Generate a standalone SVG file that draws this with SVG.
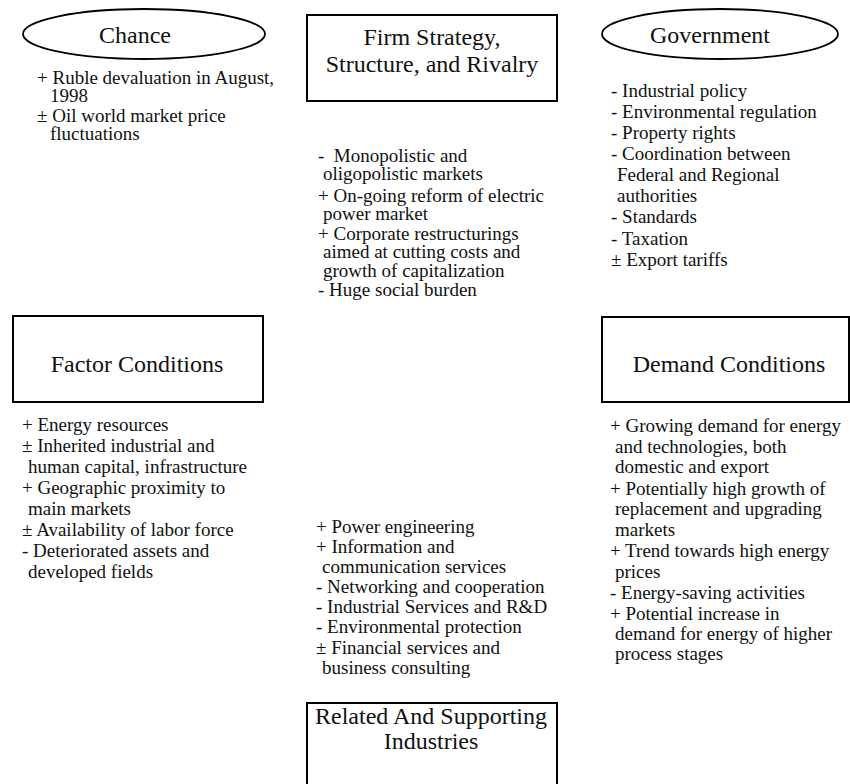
<svg xmlns="http://www.w3.org/2000/svg" width="850" height="784" viewBox="0 0 850 784">
  <style>
    .shape { fill: #ffffff; stroke: #000000; stroke-width: 2; }
    .oval { fill: #ffffff; stroke: #000000; stroke-width: 1.8; }
    .title { font-family: "Liberation Serif", "Times New Roman", serif; font-size: 24px; fill: #111111; text-anchor: middle; }
    .item { font-family: "Liberation Serif", "Times New Roman", serif; font-size: 19px; fill: #111111; }
  </style>
  <rect width="850" height="784" fill="#ffffff"/>

  <!-- Chance -->
  <g id="chance">
    <ellipse class="oval" cx="144" cy="34" rx="121" ry="25"/>
    <text class="title" x="135" y="43">Chance</text>
    <text class="item" x="37" y="84">+ Ruble devaluation in August,</text>
    <text class="item" x="50" y="102">1998</text>
    <text class="item" x="37" y="122">± Oil world market price</text>
    <text class="item" x="50" y="140">fluctuations</text>
  </g>

  <!-- Firm Strategy, Structure, and Rivalry -->
  <g id="firm-strategy">
    <rect class="shape" x="307" y="15" width="250" height="86"/>
    <text class="title" x="432" y="45">Firm Strategy,</text>
    <text class="title" x="432" y="72">Structure, and Rivalry</text>
    <text class="item" x="318" y="162" xml:space="preserve">-  Monopolistic and</text>
    <text class="item" x="323" y="180">oligopolistic markets</text>
    <text class="item" x="318" y="202">+ On-going reform of electric</text>
    <text class="item" x="323" y="220">power market</text>
    <text class="item" x="318" y="240">+ Corporate restructurings</text>
    <text class="item" x="323" y="258">aimed at cutting costs and</text>
    <text class="item" x="323" y="277">growth of capitalization</text>
    <text class="item" x="318" y="296">- Huge social burden</text>
  </g>

  <!-- Government -->
  <g id="government">
    <ellipse class="oval" cx="720" cy="34" rx="118" ry="25"/>
    <text class="title" x="710" y="43">Government</text>
    <text class="item" x="611" y="97">- Industrial policy</text>
    <text class="item" x="611" y="118">- Environmental regulation</text>
    <text class="item" x="611" y="139">- Property rights</text>
    <text class="item" x="611" y="160">- Coordination between</text>
    <text class="item" x="617" y="181">Federal and Regional</text>
    <text class="item" x="617" y="202">authorities</text>
    <text class="item" x="611" y="223">- Standards</text>
    <text class="item" x="611" y="245">- Taxation</text>
    <text class="item" x="611" y="266">± Export tariffs</text>
  </g>

  <!-- Factor Conditions -->
  <g id="factor-conditions">
    <rect class="shape" x="13" y="316" width="250" height="86"/>
    <text class="title" x="137" y="372">Factor Conditions</text>
    <text class="item" x="22" y="431">+ Energy resources</text>
    <text class="item" x="22" y="452">± Inherited industrial and</text>
    <text class="item" x="28" y="473">human capital, infrastructure</text>
    <text class="item" x="22" y="494">+ Geographic proximity to</text>
    <text class="item" x="28" y="515">main markets</text>
    <text class="item" x="22" y="536">± Availability of labor force</text>
    <text class="item" x="22" y="557">- Deteriorated assets and</text>
    <text class="item" x="28" y="578">developed fields</text>
  </g>

  <!-- Demand Conditions -->
  <g id="demand-conditions">
    <rect class="shape" x="602" y="317" width="247" height="85"/>
    <text class="title" x="729" y="372">Demand Conditions</text>
    <text class="item" x="610" y="432">+ Growing demand for energy</text>
    <text class="item" x="615" y="453">and technologies, both</text>
    <text class="item" x="615" y="473">domestic and export</text>
    <text class="item" x="610" y="495">+ Potentially high growth of</text>
    <text class="item" x="615" y="515">replacement and upgrading</text>
    <text class="item" x="615" y="536">markets</text>
    <text class="item" x="610" y="557">+ Trend towards high energy</text>
    <text class="item" x="615" y="578">prices</text>
    <text class="item" x="610" y="599">- Energy-saving activities</text>
    <text class="item" x="610" y="620">+ Potential increase in</text>
    <text class="item" x="615" y="640">demand for energy of higher</text>
    <text class="item" x="615" y="660">process stages</text>
  </g>

  <!-- Related And Supporting Industries -->
  <g id="related-industries">
    <rect class="shape" x="307" y="703" width="250" height="90"/>
    <text class="title" x="431" y="724">Related And Supporting</text>
    <text class="title" x="431" y="749">Industries</text>
    <text class="item" x="316" y="533">+ Power engineering</text>
    <text class="item" x="316" y="553">+ Information and</text>
    <text class="item" x="322" y="573">communication services</text>
    <text class="item" x="316" y="593">- Networking and cooperation</text>
    <text class="item" x="316" y="613">- Industrial Services and R&amp;D</text>
    <text class="item" x="316" y="633">- Environmental protection</text>
    <text class="item" x="316" y="654">± Financial services and</text>
    <text class="item" x="322" y="674">business consulting</text>
  </g>

  <g id="connectors"/>
</svg>
